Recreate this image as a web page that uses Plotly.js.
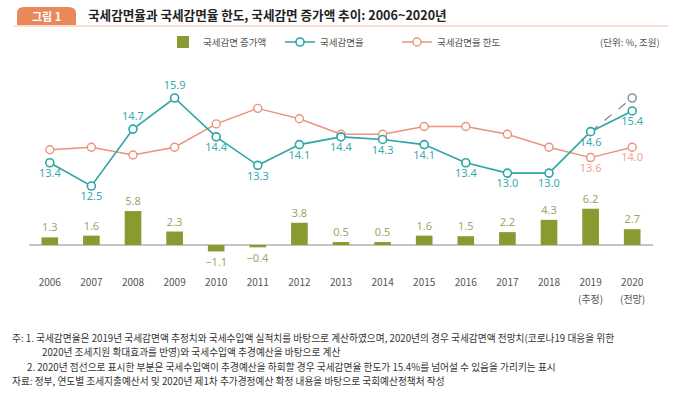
<!DOCTYPE html>
<html>
<head>
<meta charset="utf-8">
<script src="https://cdn.plot.ly/plotly-3.0.1.min.js"></script>
<style>html,body{margin:0;padding:0;background:#fff;}#chart{width:679px;height:417px;}</style>
</head>
<body>
<div id="chart"></div>
<script>
// ---- data ----
const years = ["2006","2007","2008","2009","2010","2011","2012","2013","2014","2015","2016","2017","2018","2019","2020"];
const tickLabels = ["2006","2007","2008","2009","2010","2011","2012","2013","2014","2015","2016","2017","2018","2019","2020"];
const tickSubLabels = ["","","","","","","","","","","","","","(추정)","(전망)"];
const reductionIncrease = [1.3, 1.6, 5.8, 2.3, -1.1, -0.4, 3.8, 0.5, 0.5, 1.6, 1.5, 2.2, 4.3, 6.2, 2.7];   // 국세감면 증가액 (조원)
const reductionRate = [13.4, 12.5, 14.7, 15.9, 14.4, 13.3, 14.1, 14.4, 14.3, 14.1, 13.4, 13.0, 13.0, 14.6, 15.4]; // 국세감면율 (%)
const rateLimit = [13.9, 14.0, 13.7, 14.0, 14.9, 15.5, 15.1, 14.5, 14.5, 14.8, 14.8, 14.5, 14.0, 13.6, 14.0];     // 국세감면율 한도 (%)
const limitLabelYears = ["2019", "2020"];
const dashYears = ["2019", "2020"];
const dashValues = [14.6, 15.9];  // 점선 (추경 하회 시)
const rateLabelAbove = ["2008", "2009"];

// ---- styles ----
const TEAL = "#2ea5a6", TEAL_T = "#3aa9b2";
const ORANGE = "#e9937a", ORANGE_T = "#efa690";
const OLIVE = "#8a9a30", OLIVE_T = "#a3a46c";
const FONT = "Noto Sans CJK KR, Noto Sans, sans-serif";

const barTrace = {
  type: "bar", name: "국세감면 증가액", x: years, y: reductionIncrease, yaxis: "y2", legendrank: 1,
  marker: {color: OLIVE}, width: 0.4,
  text: reductionIncrease.map(v => v.toFixed(1).replace("-", "−")), textposition: "outside",
  constraintext: "none",
  textfont: {family: "Noto Sans, sans-serif", size: 11, color: OLIVE_T},
  cliponaxis: false, hoverinfo: "skip"
};
const rateTrace = {
  type: "scatter", mode: "lines+markers+text", name: "국세감면율", x: years, y: reductionRate, legendrank: 2,
  line: {color: TEAL, width: 1.6},
  marker: {symbol: "circle", size: 8, color: "#fff", line: {color: TEAL, width: 1.6}},
  text: reductionRate.map(v => v.toFixed(1)),
  textposition: years.map(y => rateLabelAbove.includes(y) ? "top center" : "bottom center"),
  textfont: {family: "Noto Sans, sans-serif", size: 11, color: TEAL_T},
  cliponaxis: false, hoverinfo: "skip"
};
const limitTrace = {
  type: "scatter", mode: "lines+markers+text", name: "국세감면율 한도", x: years, y: rateLimit, legendrank: 3,
  line: {color: ORANGE, width: 1.4},
  marker: {symbol: "circle", size: 8, color: "#fff", line: {color: ORANGE, width: 1.4}},
  text: years.map((y, i) => limitLabelYears.includes(y) ? rateLimit[i].toFixed(1) : ""),
  textposition: "bottom center",
  textfont: {family: "Noto Sans, sans-serif", size: 11, color: ORANGE_T},
  cliponaxis: false, hoverinfo: "skip"
};
const dashTrace = {
  type: "scatter", mode: "lines", x: dashYears, y: dashValues, showlegend: false,
  line: {color: "#8f90a8", width: 1.4, dash: "dash"}, hoverinfo: "skip"
};
const dashEndTrace = {
  type: "scatter", mode: "markers", x: dashYears.slice(1), y: dashValues.slice(1), showlegend: false,
  marker: {symbol: "circle", size: 8, color: "#fff", line: {color: "#8f90a8", width: 1.6}}, hoverinfo: "skip"
};

// teal drawn on top of orange
const data = [barTrace, limitTrace, dashTrace, rateTrace, dashEndTrace];

const notes = [
  {t: "주: 1. 국세감면율은 2019년 국세감면액 추정치와 국세수입액 실적치를 바탕으로 계산하였으며, 2020년의 경우 국세감면액 전망치(코로나19 대응을 위한", x: 10, y: 338},
  {t: "2020년 조세지원 확대효과를 반영)와 국세수입액 추경예산을 바탕으로 계산", x: 40, y: 352},
  {t: "2. 2020년 점선으로 표시한 부분은 국세수입액이 추경예산을 하회할 경우 국세감면율 한도가 15.4%를 넘어설 수 있음을 가리키는 표시", x: 25, y: 367},
  {t: "자료: 정부, 연도별 조세지출예산서 및 2020년 제1차 추가경정예산 확정 내용을 바탕으로 국회예산정책처 작성", x: 10, y: 381}
];

const W = 679, H = 417;
const pl = 29, pr = W - 26, pt = 60, pb = H - 142;
const px = v => (v - pl) / (pr - pl);
const py = v => (pb - v) / (pb - pt);

const subLabelAnns = [];
tickSubLabels.forEach((t, i) => {
  if (t) subLabelAnns.push({
    xref: "x", yref: "paper", x: i, y: py(298), text: t, showarrow: false,
    xanchor: "center", yanchor: "middle", font: {family: FONT, size: 10, color: "#555"}
  });
});

const layout = {
  width: W, height: H,
  margin: {l: pl, r: W - pr, t: pt, b: H - pb},
  paper_bgcolor: "#fff", plot_bgcolor: "#fff",
  font: {family: FONT, color: "#444"},
  title: {
    text: "<b>국세감면율과 국세감면율 한도, 국세감면 증가액 추이: 2006~2020년</b>",
    x: 88 / W, xanchor: "left", xref: "container", y: 1 - 16 / H, yanchor: "middle", yref: "container",
    font: {family: FONT, size: 12.6, color: "#222"}
  },
  xaxis: {
    type: "category", categoryorder: "array", categoryarray: years,
    tickvals: years, ticktext: tickLabels, range: [-0.5, 14.5],
    showgrid: false, showline: false, zeroline: false, ticks: "",
    tickfont: {family: FONT, size: 10, color: "#555"}
  },
  yaxis: {range: [9.066, 17.367], showgrid: false, zeroline: false, showticklabels: false},
  yaxis2: {range: [-5.13, 31.62], overlaying: "y", showgrid: false, zeroline: true, zerolinecolor: "#c4c4c4", zerolinewidth: 1.2, showticklabels: false},
  showlegend: true,
  legend: {
    orientation: "h", x: px(163), xanchor: "left", y: py(42), yanchor: "middle",
    entrywidth: 72, entrywidthmode: "pixels",
    font: {family: FONT, size: 9.5, color: "#555"}, traceorder: "normal"
  },
  shapes: [
    {type: "line", xref: "paper", yref: "paper", x0: px(14), x1: px(668), y0: py(26), y1: py(26), line: {color: "#f3d3c2", width: 1.5}},
    {type: "path", xref: "paper", yref: "paper",
     path: `M ${px(17)} ${py(25)} L ${px(17)} ${py(13)} Q ${px(17)} ${py(7)} ${px(24)} ${py(7)} L ${px(68)} ${py(7)} Q ${px(76)} ${py(7)} ${px(76)} ${py(13)} L ${px(76)} ${py(25)} Z`,
     fillcolor: "#e9895a", line: {width: 0}}
  ],
  annotations: [
    {xref: "paper", yref: "paper", x: px(46.5), y: py(16), text: "<b>그림 1</b>", showarrow: false, xanchor: "center", yanchor: "middle",
     font: {family: FONT, size: 11, color: "#fff"}},
    {xref: "paper", yref: "paper", x: px(662), y: py(42), text: "(단위: %, 조원)", showarrow: false, xanchor: "right", yanchor: "middle",
     font: {family: FONT, size: 9.5, color: "#555"}}
  ]
    .concat(subLabelAnns)
    .concat(notes.map(n => ({
      xref: "paper", yref: "paper", x: px(n.x), y: py(n.y), text: n.t, showarrow: false,
      xanchor: "left", yanchor: "middle", font: {family: FONT, size: 9.7, color: "#333"}
    })))
};

Plotly.newPlot("chart", data, layout, {staticPlot: true, displayModeBar: false});
</script>
</body>
</html>
